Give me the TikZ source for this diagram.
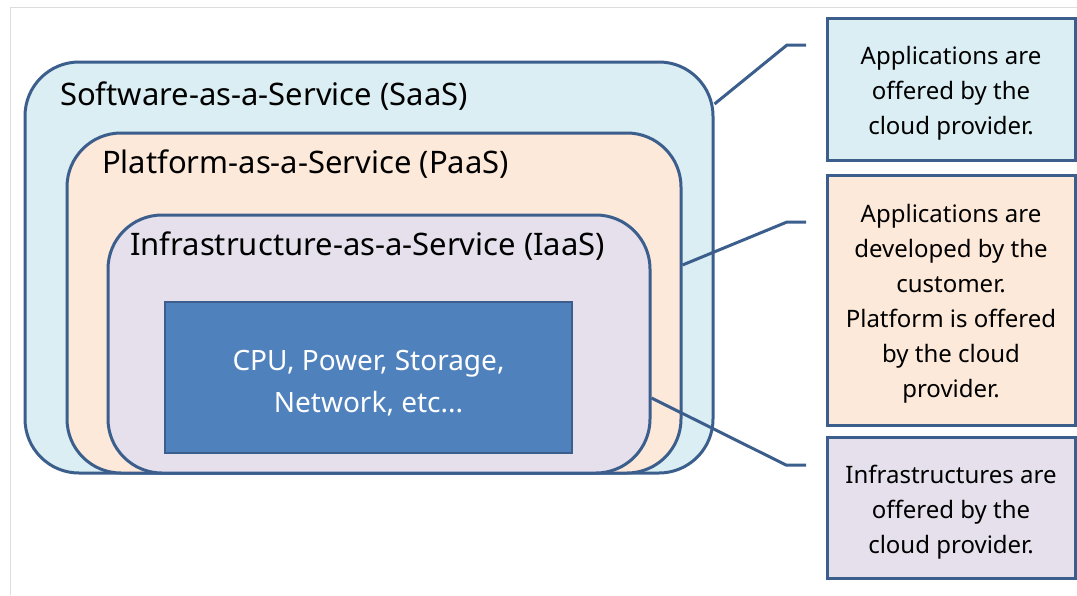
\documentclass[tikz,border=0pt]{standalone}
\usepackage{fontspec}
\setmainfont{Noto Sans}
\usetikzlibrary{positioning,calc}

\definecolor{edgeblue}{HTML}{3B5E8C}
\definecolor{saasfill}{HTML}{DAEEF3}
\definecolor{paasfill}{HTML}{FDE9D9}
\definecolor{iaasfill}{HTML}{E5E0EC}
\definecolor{cpufill}{HTML}{4F81BD}
\definecolor{framegray}{HTML}{DDDDDD}

\newcommand{\lift}[1]{\rule{0pt}{#1}}

\tikzset{
  layer/.style={draw=edgeblue, line width=3pt, rounded corners=54pt, inner sep=0pt},
  layertext/.style={anchor=west, inner sep=0pt, font=\fontsize{31}{36}\selectfont},
  note/.style={draw=edgeblue, line width=3pt, minimum width=248pt, align=center,
    inner sep=0pt, font=\fontsize{24}{35}\selectfont},
  link/.style={draw=edgeblue, line width=3pt},
}

\begin{document}
\begin{tikzpicture}[x=1pt,y=-1pt]
\useasboundingbox (0,0) rectangle (1077,595);
\draw[framegray, line width=1pt] (10,595) -- (10,7) -- (1077,7);

% nested service layers
\node[layer, fill=saasfill, minimum width=688pt, minimum height=411pt] (saas) at (369,267.5) {};
\node[layer, fill=paasfill, minimum width=614pt, minimum height=340pt] (paas) at (374,303) {};
\node[layer, fill=iaasfill, minimum width=542pt, minimum height=258pt] (iaas) at (379,344) {};
\node[draw=edgeblue, line width=2.4pt, fill=cpufill, minimum width=407pt, minimum height=151pt,
  align=center, text=white, font=\fontsize{28}{42}\selectfont] (cpu) at (368.5,377.5)
  {\lift{31pt}CPU, Power, Storage,\\Network, etc...};

\node[layertext] (saaslabel) at (60,96) {Software-as-a-Service (SaaS)};
\node[layertext] (paaslabel) at (102,164) {Platform-as-a-Service (PaaS)};
\node[layertext] (iaaslabel) at (130,246) {Infrastructure-as-a-Service (IaaS)};

% descriptions
\node[note, fill=saasfill, minimum height=142pt] (saasnote) at (951,89)
  {\lift{27pt}Applications are\\offered by the\\cloud provider.};
\node[note, fill=paasfill, minimum height=250pt] (paasnote) at (951,300)
  {\lift{25pt}Applications are\\developed by the\\customer.\\Platform is offered\\by the cloud\\provider.};
\node[note, fill=iaasfill, minimum height=141pt] (iaasnote) at (951,507.5)
  {\lift{27pt}Infrastructures are\\offered by the\\cloud provider.};

% callout lines
\coordinate (saasknee) at (787,45);
\coordinate (saasend) at (806,45);
\coordinate (paasknee) at (787,222);
\coordinate (paasend) at (806,222);
\coordinate (iaasknee) at (786,465);
\coordinate (iaasend) at (806,465);
\draw[link] (saas.east |- 0,104) -- (saasknee) -- (saasend);
\draw[link] (paas.east |- 0,265) -- (paasknee) -- (paasend);
\draw[link] (iaas.east |- 0,398) -- (iaasknee) -- (iaasend);
\end{tikzpicture}
\end{document}
